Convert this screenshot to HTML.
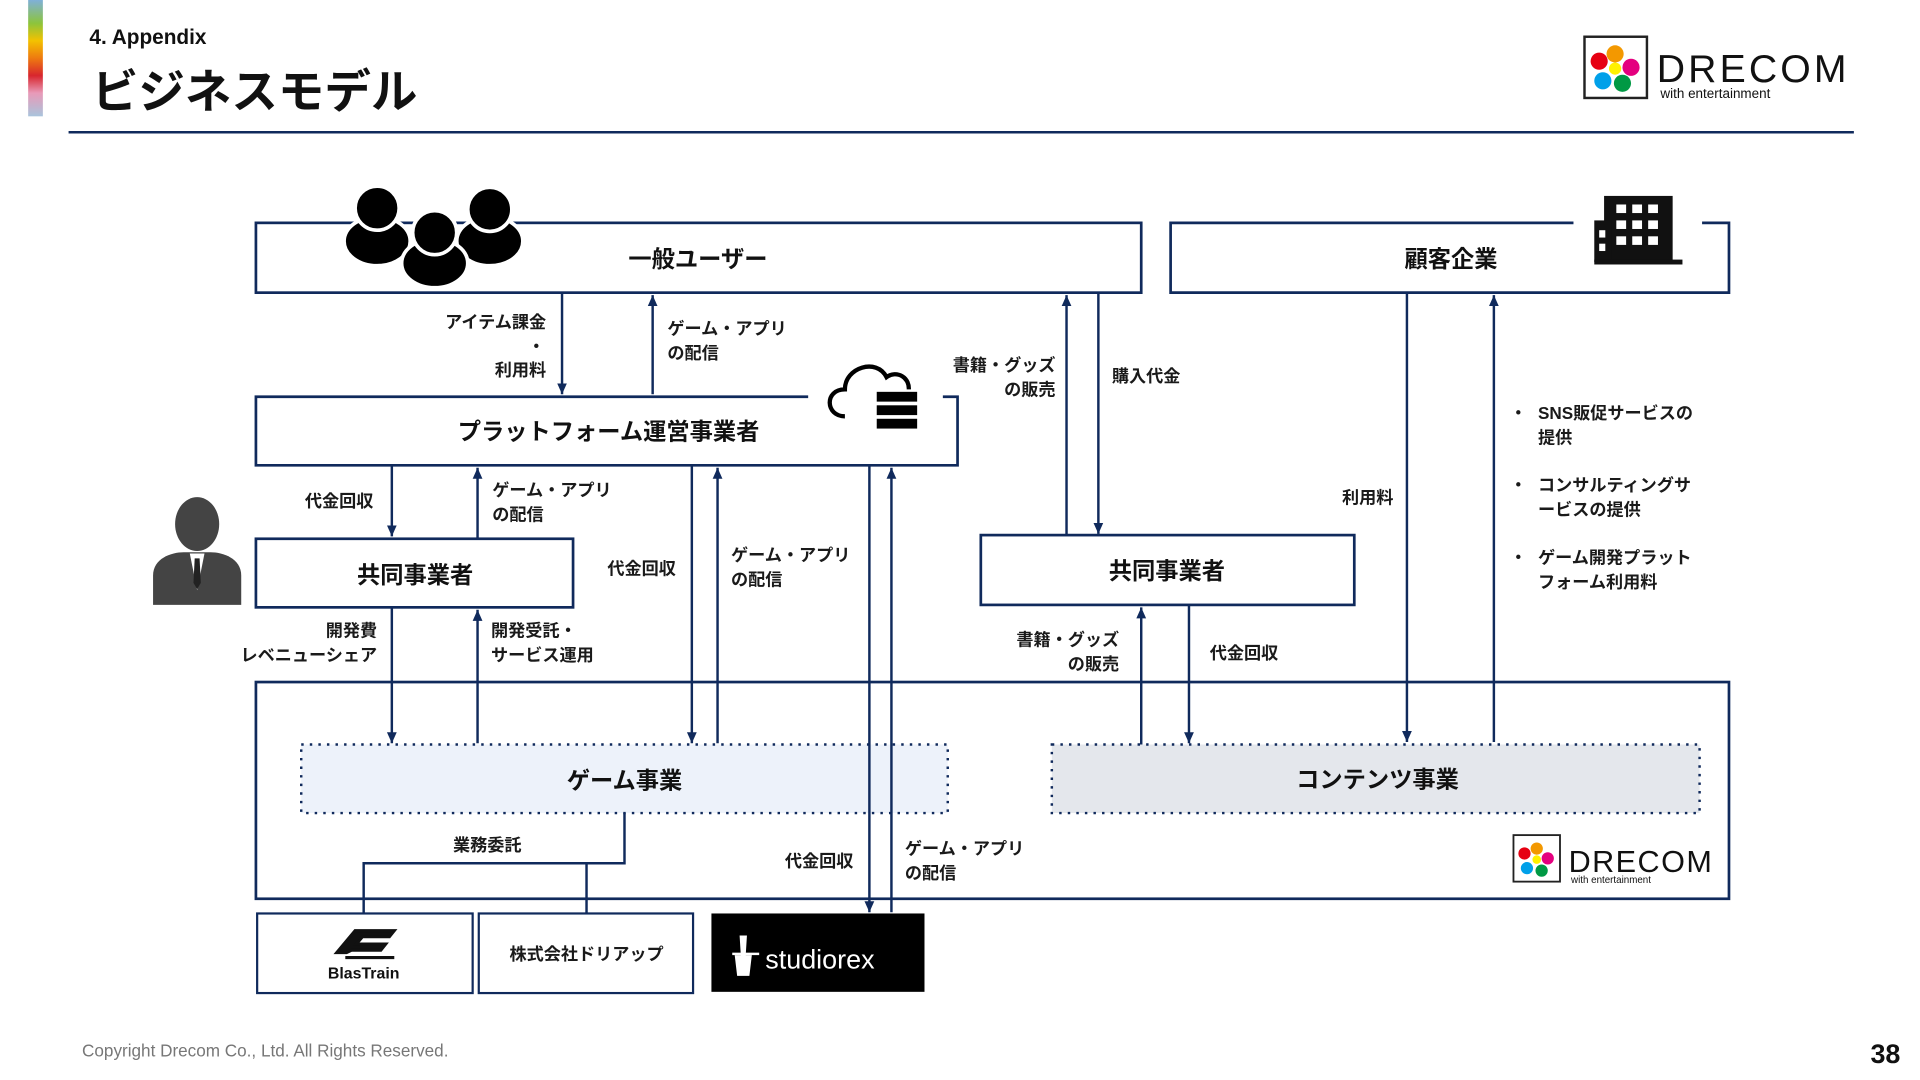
<!DOCTYPE html>
<html><head><meta charset="utf-8"><style>
html,body{margin:0;padding:0;background:#fff;width:1920px;height:1080px;overflow:hidden}
svg{display:block}
text{font-family:"Liberation Sans","Noto Sans CJK JP",sans-serif;fill:#111}
.b{font-weight:bold}
.lbl{font-size:14px;font-weight:bold;fill:#1a1a1a}
.box{font-size:19px;font-weight:bold}
</style></head><body>
<svg width="1920" height="1080" viewBox="0 0 1568 882" xmlns="http://www.w3.org/2000/svg">
<defs>
<linearGradient id="cb" x1="0" y1="0" x2="0" y2="1">
<stop offset="0" stop-color="#7fb0d8"/><stop offset="0.2" stop-color="#8cc43c"/><stop offset="0.35" stop-color="#f3c200"/><stop offset="0.5" stop-color="#ee7a10"/><stop offset="0.65" stop-color="#d8262e"/><stop offset="0.8" stop-color="#e89ab8"/><stop offset="1" stop-color="#a9c4dc"/>
</linearGradient>
<marker id="a" markerWidth="10" markerHeight="10" refX="9" refY="5" orient="auto" markerUnits="userSpaceOnUse"><path d="M0,1 L9,5 L0,9 Z" fill="#102a5c"/></marker>
</defs>
<rect x="23" y="0" width="12" height="95" fill="url(#cb)"/>
<text x="73" y="36" font-size="17" class="b">4. Appendix</text>
<text x="75" y="88" font-size="38" class="b" fill="#111">ビジネスモデル</text>
<line x1="56" y1="108" x2="1514" y2="108" stroke="#102a5c" stroke-width="2"/>
<g>
<rect x="1294" y="30" width="51" height="50" fill="#fff" stroke="#222" stroke-width="2"/>
<circle cx="1319" cy="44" r="7" fill="#f39800"/><circle cx="1332" cy="55" r="7" fill="#e4007f"/><circle cx="1325" cy="68" r="7" fill="#009944"/><circle cx="1309" cy="66" r="7" fill="#00a0e9"/><circle cx="1306" cy="50" r="7" fill="#e60012"/><circle cx="1319" cy="56" r="5" fill="#fff100"/>
<text x="1353" y="67" font-size="32" fill="#333" textLength="155">DRECOM</text>
<text x="1356" y="80" font-size="11" fill="#333">with entertainment</text>
</g>
<g stroke="#102a5c" stroke-width="2.2" fill="none">
<rect x="209" y="182" width="723" height="57"/>
<path d="M1285,182 H956 V239 H1412 V182 H1390"/>
<path d="M660,324 H209 V380 H782 V324 H770"/>
<rect x="209" y="440" width="259" height="56"/>
<rect x="801" y="437" width="305" height="57"/>
<rect x="209" y="557" width="1203" height="177"/>
</g>
<rect x="246" y="608" width="528" height="56" fill="#edf2fa" stroke="#102a5c" stroke-width="2" stroke-dasharray="2,5"/>
<rect x="859" y="608" width="529" height="56" fill="#e4e7ec" stroke="#102a5c" stroke-width="2" stroke-dasharray="2,5"/>
<g fill="#000" stroke="#fff" stroke-width="3">
<ellipse cx="308" cy="197" rx="27" ry="20"/><circle cx="308" cy="170" r="18"/>
<ellipse cx="400" cy="197" rx="27" ry="20"/><circle cx="400" cy="171" r="18"/>
<ellipse cx="355" cy="215" rx="27" ry="20"/><circle cx="355" cy="190" r="18"/>
</g>
<rect x="1290" y="160" width="100" height="60" fill="#fff"/>
<g fill="#111"><rect x="1310" y="160" width="56" height="54"/><rect x="1302" y="180" width="14" height="34"/><rect x="1302" y="212" width="72" height="4"/></g>
<g fill="#fff"><rect x="1320" y="167" width="8" height="7"/><rect x="1333" y="167" width="8" height="7"/><rect x="1346" y="167" width="8" height="7"/><rect x="1320" y="180" width="8" height="7"/><rect x="1333" y="180" width="8" height="7"/><rect x="1346" y="180" width="8" height="7"/><rect x="1320" y="193" width="8" height="7"/><rect x="1333" y="193" width="8" height="7"/><rect x="1346" y="193" width="8" height="7"/><rect x="1306" y="188" width="5" height="6"/><rect x="1306" y="199" width="5" height="6"/></g>
<g>
<path d="M690,340 C674,340 673,318 690,318 C690,300 716,292 724,308 C732,302 744,308 742,320" fill="#fff" stroke="#000" stroke-width="3.5"/>
<rect x="714" y="318" width="36" height="34" fill="#fff"/>
<rect x="716" y="320" width="33" height="8" fill="#000"/><rect x="716" y="331" width="33" height="8" fill="#000"/><rect x="716" y="342" width="33" height="8" fill="#000"/>
</g>
<g fill="#444">
<ellipse cx="161" cy="428" rx="18" ry="22"/>
<path d="M125,494 V470 C125,456 140,451 150,451 H172 C182,451 197,456 197,470 V494 Z"/>
<path d="M155,452 L167,452 L161,482 Z" fill="#fff"/><path d="M159,456 L163,456 L164,476 L161,481 L158,476 Z" fill="#222"/>
</g>
<g text-anchor="middle">
<text x="570" y="218" class="box">一般ユーザー</text>
<text x="1185" y="218" class="box">顧客企業</text>
<text x="497" y="359" class="box">プラットフォーム運営事業者</text>
<text x="339" y="476" class="box">共同事業者</text>
<text x="953" y="473" class="box">共同事業者</text>
<text x="510" y="644" class="box">ゲーム事業</text>
<text x="1125" y="643" class="box">コンテンツ事業</text>
</g>
<g stroke="#102a5c" stroke-width="2" marker-end="url(#a)">
<line x1="459" y1="239" x2="459" y2="322"/>
<line x1="533" y1="322" x2="533" y2="241"/>
<line x1="320" y1="380" x2="320" y2="438"/>
<line x1="390" y1="440" x2="390" y2="382"/>
<line x1="565" y1="380" x2="565" y2="607"/>
<line x1="586" y1="607" x2="586" y2="382"/>
<line x1="710" y1="380" x2="710" y2="745"/>
<line x1="728" y1="745" x2="728" y2="382"/>
<line x1="320" y1="496" x2="320" y2="607"/>
<line x1="390" y1="607" x2="390" y2="498"/>
<line x1="871" y1="437" x2="871" y2="241"/>
<line x1="897" y1="239" x2="897" y2="436"/>
<line x1="932" y1="608" x2="932" y2="496"/>
<line x1="971" y1="494" x2="971" y2="607"/>
<line x1="1149" y1="239" x2="1149" y2="606"/>
<line x1="1220" y1="606" x2="1220" y2="241"/>
</g>
<path d="M510,664 V705 H297 V746 M479,705 V746" fill="none" stroke="#102a5c" stroke-width="2"/>
<g>
<text x="446" y="268" text-anchor="end" class="lbl">アイテム課金</text>
<text x="438" y="288" text-anchor="middle" class="lbl">・</text>
<text x="446" y="307" text-anchor="end" class="lbl">利用料</text>
<text x="545" y="273" class="lbl">ゲーム・アプリ</text><text x="545" y="293" class="lbl">の配信</text>
<text x="249" y="414" class="lbl">代金回収</text>
<text x="402" y="405" class="lbl">ゲーム・アプリ</text><text x="402" y="425" class="lbl">の配信</text>
<text x="496" y="469" class="lbl">代金回収</text>
<text x="597" y="458" class="lbl">ゲーム・アプリ</text><text x="597" y="478" class="lbl">の配信</text>
<text x="308" y="520" text-anchor="end" class="lbl">開発費</text><text x="308" y="540" text-anchor="end" class="lbl">レベニューシェア</text>
<text x="401" y="520" class="lbl">開発受託・</text><text x="401" y="540" class="lbl">サービス運用</text>
<text x="862" y="303" text-anchor="end" class="lbl">書籍・グッズ</text><text x="862" y="323" text-anchor="end" class="lbl">の販売</text>
<text x="908" y="312" class="lbl">購入代金</text>
<text x="914" y="527" text-anchor="end" class="lbl">書籍・グッズ</text><text x="914" y="547" text-anchor="end" class="lbl">の販売</text>
<text x="988" y="538" class="lbl">代金回収</text>
<text x="1096" y="411" class="lbl">利用料</text>
<text x="641" y="708" class="lbl">代金回収</text>
<text x="739" y="698" class="lbl">ゲーム・アプリ</text><text x="739" y="718" class="lbl">の配信</text>
<text x="370" y="695" class="lbl">業務委託</text>
<text x="1233" y="342" class="lbl">・</text><text x="1256" y="342" class="lbl">SNS販促サービスの</text><text x="1256" y="362" class="lbl">提供</text>
<text x="1233" y="401" class="lbl">・</text><text x="1256" y="401" class="lbl">コンサルティングサ</text><text x="1256" y="421" class="lbl">ービスの提供</text>
<text x="1233" y="460" class="lbl">・</text><text x="1256" y="460" class="lbl">ゲーム開発プラット</text><text x="1256" y="480" class="lbl">フォーム利用料</text>
</g>
<g>
<rect x="1236" y="682" width="38" height="38" fill="#fff" stroke="#222" stroke-width="1.5"/>
<circle cx="1255" cy="693" r="5" fill="#f39800"/><circle cx="1264" cy="701" r="5" fill="#e4007f"/><circle cx="1259" cy="711" r="5" fill="#009944"/><circle cx="1247" cy="709" r="5" fill="#00a0e9"/><circle cx="1245" cy="697" r="5" fill="#e60012"/><circle cx="1255" cy="702" r="3.5" fill="#fff100"/>
<text x="1281" y="712" font-size="25" fill="#333" textLength="117">DRECOM</text>
<text x="1283" y="721" font-size="8" fill="#333">with entertainment</text>
</g>
<rect x="210" y="746" width="176" height="65" fill="#fff" stroke="#102a5c" stroke-width="1.8"/>
<path d="M275,778 L290,760 H322 L318,765 H296 L291,771 H315 L311,776 H287 L283,778 Z M282,782 H322" stroke="#111" stroke-width="2.5" fill="#111"/>
<text x="297" y="799" text-anchor="middle" font-size="13" class="b">BlasTrain</text>
<rect x="391" y="746" width="175" height="65" fill="#fff" stroke="#102a5c" stroke-width="1.8"/>
<text x="479" y="784" text-anchor="middle" class="lbl">株式会社ドリアップ</text>
<rect x="581" y="746" width="174" height="64" fill="#000"/>
<path d="M604,764 L610,764 L609,780 L614,780 L612,797 L602,797 L600,780 L605,780 Z" fill="#fff"/><rect x="598" y="778" width="22" height="2" fill="#fff"/>
<text x="625" y="791" font-size="22" style="fill:#fff">studiorex</text>
<text x="67" y="863" font-size="14" style="fill:#777">Copyright Drecom Co., Ltd. All Rights Reserved.</text>
<text x="1552" y="868" text-anchor="end" font-size="22" class="b">38</text>
</svg>
</body></html>
